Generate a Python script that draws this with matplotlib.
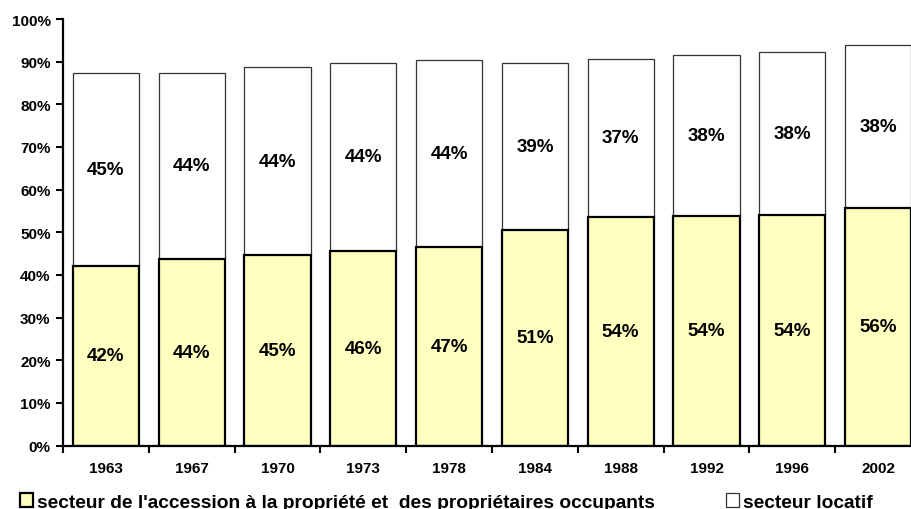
import numpy as np
import matplotlib
matplotlib.use("Agg")
import matplotlib.pyplot as plt
from matplotlib.patches import Patch

plt.rcParams['font.family'] = ['Liberation Sans', 'DejaVu Sans']
plt.rcParams['font.weight'] = 'bold'

years = ['1963', '1967', '1970', '1973', '1978', '1984', '1988', '1992', '1996', '2002']
proprietaires = [42.0, 43.7, 44.6, 45.6, 46.6, 50.6, 53.6, 53.7, 54.1, 55.8]
locatif = [45.3, 43.7, 44.2, 44.1, 43.9, 39.0, 37.1, 37.8, 38.2, 38.1]
yticks = [0, 10, 20, 30, 40, 50, 60, 70, 80, 90, 100]
legend_labels = ["secteur de l'accession à la propriété et  des propriétaires occupants",
                 "secteur locatif"]

yellow = '#FFFFC0'

fig = plt.figure(figsize=(9.11, 5.10), dpi=100)
ax = fig.add_axes([63 / 911, 63.5 / 510, 858 / 911, 426.5 / 510])

x = np.arange(len(years))
w = 0.77
ax.bar(x, locatif, w, bottom=proprietaires, color='white', edgecolor='#333333',
       linewidth=0.9, zorder=2)
ax.bar(x, proprietaires, w, color=yellow, edgecolor='black', linewidth=1.6, zorder=3)

for xi, p, l in zip(x, proprietaires, locatif):
    ax.text(xi, p / 2, f"{p:.0f}%", ha='center', va='center', fontsize=13.5,
            fontweight='bold', zorder=4)
    ax.text(xi, p + l / 2, f"{l:.0f}%", ha='center', va='center', fontsize=13.5,
            fontweight='bold', zorder=4)

ax.set_xlim(-0.5, len(years) - 0.5)
ax.set_ylim(0, 100)
ax.set_yticks(yticks)
ax.set_yticklabels([f"{t}%" for t in yticks], fontsize=11, fontweight='bold')
ax.set_xticks(np.arange(-0.5, len(years), 1.0))
ax.set_xticklabels([])
ax.set_xticks(x, minor=True)
ax.set_xticklabels(years, minor=True, fontsize=11, fontweight='bold')
ax.tick_params(axis='x', which='minor', length=0, pad=11)
ax.tick_params(axis='x', which='major', length=5, width=1.5, direction='out')
ax.tick_params(axis='y', length=5, width=1.5, direction='out', pad=4)

for s in ['top', 'right']:
    ax.spines[s].set_visible(False)
for s in ['left', 'bottom']:
    ax.spines[s].set_linewidth(1.6)
    ax.spines[s].set_zorder(5)

handles = [Patch(facecolor=yellow, edgecolor='black', linewidth=1.6),
           Patch(facecolor='white', edgecolor='#333333', linewidth=0.9)]
leg_x = [20 / 911, 726 / 911]
for h, lab, lx in zip(handles, legend_labels, leg_x):
    fig.legend([h], [lab], loc='center left', bbox_to_anchor=(lx, 7 / 510),
               frameon=False, fontsize=13.8, handlelength=0.7, handleheight=0.7,
               handletextpad=0.2, borderpad=0, borderaxespad=0)

fig.savefig('out.png', dpi=100)
